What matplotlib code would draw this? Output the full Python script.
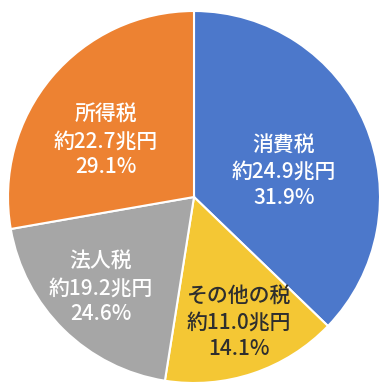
import numpy as np
import matplotlib
matplotlib.use('Agg')
import matplotlib.pyplot as plt

plt.rcParams['font.family'] = ['Noto Sans CJK JP', 'DejaVu Sans']

# Data (wedge shares, labels as printed)
taxes = ['消費税', 'その他の税', '法人税', '所得税']
amounts = ['約24.9兆円', '約11.0兆円', '約19.2兆円', '約22.7兆円']
percents = ['31.9%', '14.1%', '24.6%', '29.1%']
shares = [37.2, 15.3, 19.75, 27.75]

colors = ['#4C78CB', '#F4C734', '#A6A6A6', '#ED8232']
text_colors = ['white', '#2E2E2E', 'white', 'white']
label_pos = [(0.484, 0.135), (0.242, -0.675), (-0.50, -0.49), (-0.473, 0.30)]

fig = plt.figure(figsize=(3.92, 3.86), dpi=100)
ax = fig.add_axes([(194 - 186) / 392, (386 - 197 - 186) / 386, 372 / 392, 372 / 386])

ax.pie(shares, colors=colors, startangle=90, counterclock=False, radius=1,
       wedgeprops=dict(edgecolor='white', linewidth=1.5))

for name, amt, pct, tc, (x, y) in zip(taxes, amounts, percents, text_colors, label_pos):
    ax.text(x, y, f'{name}\n{amt}\n{pct}', ha='center', va='center', color=tc,
            fontsize=15, fontweight='medium', linespacing=1.25)

ax.set_xlim(-1, 1)
ax.set_ylim(-1, 1)
ax.set_aspect('equal')
ax.axis('off')

fig.savefig('out.png', dpi=100)
